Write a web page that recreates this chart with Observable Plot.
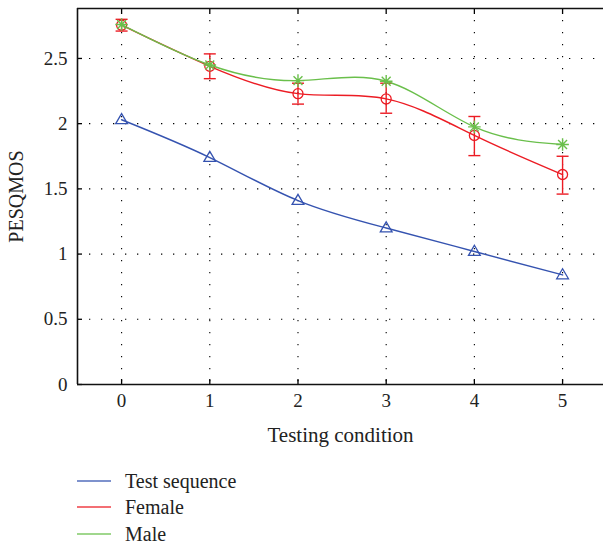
<!DOCTYPE html>
<html><head><meta charset="utf-8">
<script src="https://cdn.jsdelivr.net/npm/d3@7"></script>
<script src="https://cdn.jsdelivr.net/npm/@observablehq/plot@0.6"></script>
<style>
html,body{margin:0;padding:0;background:#fff;font-family:'Liberation Serif','DejaVu Serif',serif;}
#legend{position:relative;height:90px;width:603px;}
.row{position:absolute;left:77px;height:26px;display:flex;align-items:center;font-size:20px;color:#222;font-family:'Liberation Serif','DejaVu Serif',serif;}
.row svg{margin-right:14px;}
svg text{font-family:'Liberation Serif','DejaVu Serif',serif !important;font-variant-numeric:normal;}
</style></head><body><div id="chart"></div><div id="legend"></div>
<script>
const conditions = [0, 1, 2, 3, 4, 5];
const testSeq = [2.03, 1.74, 1.41, 1.20, 1.02, 0.84];
const female = [2.755, 2.44, 2.23, 2.19, 1.91, 1.61];
const femaleLo = [2.71, 2.345, 2.15, 2.08, 1.755, 1.46];
const femaleHi = [2.80, 2.535, 2.31, 2.31, 2.055, 1.75];
const male = [2.76, 2.45, 2.33, 2.325, 1.975, 1.84];
const yTicks = [0, 0.5, 1, 1.5, 2, 2.5];
const xTicks = [0, 1, 2, 3, 4, 5];
const seriesNames = ["Test sequence", "Female", "Male"];
const colors = ["#3553b0", "#ec1c24", "#6abf4b"];
const xDomain = [-0.5, 5.464];
const yDomain = [0, 2.883];

const tsData = conditions.map((c, i) => ({c, v: testSeq[i]}));
const fData = conditions.map((c, i) => ({c, v: female[i], lo: femaleLo[i], hi: femaleHi[i]}));
const mData = conditions.map((c, i) => ({c, v: male[i]}));

const rad = s => Math.sqrt(s / Math.PI);
const hline = {draw(ctx, s){ const r = rad(s); ctx.moveTo(-r, 0); ctx.lineTo(r, 0); }};
const star8 = {draw(ctx, s){ const r = rad(s); for (let k = 0; k < 4; k++){ const a = k*Math.PI/4; const dx = r*Math.cos(a), dy = r*Math.sin(a); ctx.moveTo(-dx,-dy); ctx.lineTo(dx,dy);} }};
const tri = {draw(ctx, s){ const r = rad(s); ctx.moveTo(0, -r); ctx.lineTo(r*0.95, r*0.62); ctx.lineTo(-r*0.95, r*0.62); ctx.closePath(); }};

const dotted = {stroke: "#000", strokeOpacity: 1, strokeWidth: 1.1, strokeDasharray: "1.3,10.7"};
const fmt = d => String(d);

const chart = Plot.plot({
  width: 603, height: 455,
  marginLeft: 77, marginRight: 0, marginTop: 8, marginBottom: 71,
  style: {fontFamily: "'Liberation Serif', 'DejaVu Serif', serif", fontSize: "19px", color: "#222", background: "#fff", overflow: "visible"},
  x: {domain: xDomain},
  y: {domain: yDomain},
  marks: [
    Plot.gridX(xTicks, dotted),
    Plot.gridY(yTicks.filter(d => d > 0), dotted),
    Plot.axisX(xTicks, {anchor: "bottom", tickSize: 0, tickPadding: 9, fontSize: 19, tickFormat: fmt, label: null}),
    Plot.axisX(xTicks, {anchor: "bottom", tickSize: 0, text: null, fontSize: 21, label: "Testing condition", labelAnchor: "center", labelArrow: "none", labelOffset: 57}),
    Plot.axisX(xTicks, {anchor: "bottom", tickSize: -5, text: null, label: null, stroke: "#000", strokeWidth: 1.3}),
    Plot.axisX(xTicks, {anchor: "top", tickSize: -5, text: null, label: null, stroke: "#000", strokeWidth: 1.3}),
    Plot.axisY(yTicks, {anchor: "left", tickSize: 0, tickPadding: 10, fontSize: 19, tickFormat: fmt, label: null}),
    Plot.axisY(yTicks, {anchor: "left", tickSize: 0, text: null, fontSize: 20, label: "PESQMOS", labelAnchor: "center", labelArrow: "none", labelOffset: 69}),
    Plot.axisY(yTicks, {anchor: "left", tickSize: -5, text: null, label: null, stroke: "#000", strokeWidth: 1.3}),
    Plot.ruleX([xDomain[0]], {stroke: "#111", strokeWidth: 1.6}),
    Plot.ruleY([yDomain[0]], {stroke: "#111", strokeWidth: 1.6}),
    Plot.ruleY([yDomain[1]], {stroke: "#111", strokeWidth: 1.6}),
    // Test sequence
    Plot.line(tsData, {x: "c", y: "v", stroke: colors[0], strokeWidth: 1.4, curve: "natural"}),
    Plot.dot(tsData, {x: "c", y: "v", symbol: tri, r: 6.2, stroke: colors[0], strokeWidth: 1.3, fill: "none"}),
    // Female
    Plot.line(fData, {x: "c", y: "v", stroke: colors[1], strokeWidth: 1.4, curve: "natural"}),
    Plot.ruleX(fData, {x: "c", y1: "lo", y2: "hi", stroke: colors[1], strokeWidth: 1.4}),
    Plot.dot(fData, {x: "c", y: "lo", symbol: hline, r: 6, stroke: colors[1], strokeWidth: 1.4}),
    Plot.dot(fData, {x: "c", y: "hi", symbol: hline, r: 6, stroke: colors[1], strokeWidth: 1.4}),
    Plot.dot(fData, {x: "c", y: "v", symbol: "circle", r: 5, stroke: colors[1], strokeWidth: 1.3, fill: "none"}),
    // Male
    Plot.line(mData, {x: "c", y: "v", stroke: colors[2], strokeWidth: 1.4, curve: "natural"}),
    Plot.dot(mData, {x: "c", y: "v", symbol: star8, r: 6.3, stroke: colors[2], strokeWidth: 1.4})
  ]
});
document.getElementById("chart").appendChild(chart);

const legend = document.getElementById("legend");
const rowTops = [13, 39, 66];
seriesNames.forEach((name, i) => {
  const row = document.createElement("div");
  row.className = "row";
  row.style.top = rowTops[i] + "px";
  row.innerHTML = `<svg width="34" height="4"><line x1="0" x2="34" y1="2" y2="2" stroke="${colors[i]}" stroke-width="1.6" stroke-opacity="0.85"/></svg><span>${name}</span>`;
  legend.appendChild(row);
});
</script></body></html>
